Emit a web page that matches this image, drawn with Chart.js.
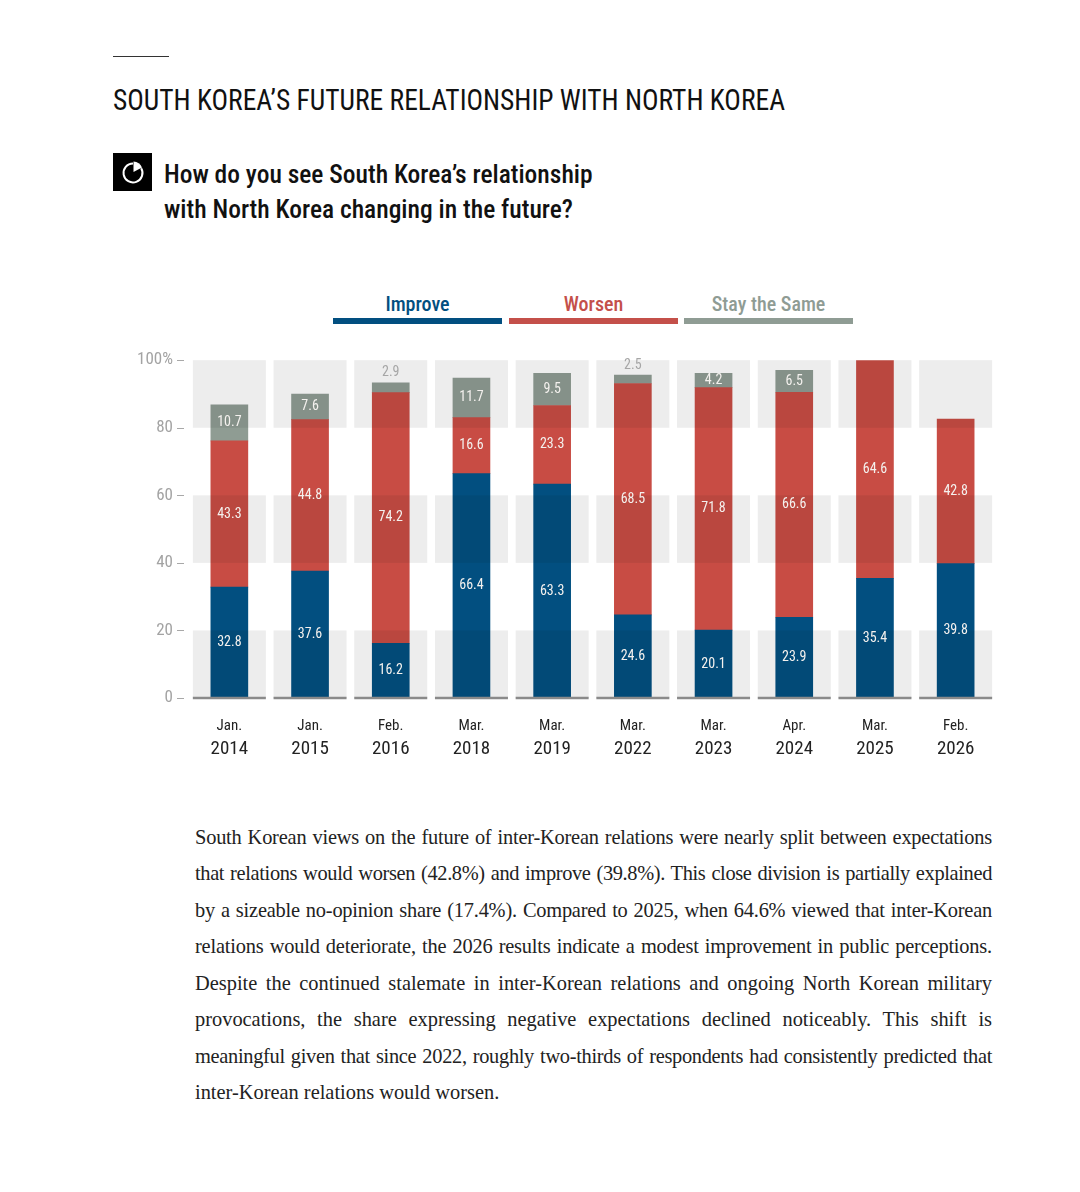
<!DOCTYPE html>
<html>
<head>
<meta charset="utf-8">
<title>South Korea's future relationship with North Korea</title>
<script src="https://cdn.jsdelivr.net/npm/chart.js@4"></script>
<style>
  html, body { margin: 0; padding: 0; background: #fff; }
  body { width: 1080px; height: 1192px; position: relative; overflow: hidden; font-family: "Roboto Condensed", sans-serif; }
  .abs { position: absolute; white-space: nowrap; }
  #rule { left: 113px; top: 56px; width: 56px; height: 1px; background: #333; }
  #title { left: 113px; top: 81px; font-size: 30px; line-height: 38px; color: #111; transform: scaleX(0.917); transform-origin: left center; }
  #icon { left: 113px; top: 153px; width: 39px; height: 38px; background: #000; }
  .question { left: 164px; font-size: 26px; line-height: 34px; font-weight: 500; color: #111; transform: scaleX(0.98); transform-origin: left center; }
  .legend-label { font-size: 20px; line-height: 24px; font-weight: 500; text-align: center; top: 292px; width: 169px; }
  .legend-bar { top: 318px; height: 6px; width: 169px; }
  #chart-box { left: 130px; top: 334px; }
  .body-line { left: 195px; width: 797px; font-family: "Liberation Serif", serif; font-size: 20.4px; line-height: 28px; color: #222; white-space: normal; text-align: justify; text-align-last: justify; }
  .body-line.last { text-align-last: left; }
</style>
</head>
<body>
<div class="abs" id="rule"></div>
<div class="abs" id="title">SOUTH KOREA’S FUTURE RELATIONSHIP WITH NORTH KOREA</div>
<div class="abs" id="icon">
  <svg width="39" height="38" viewBox="0 0 39 38">
    <path d="M20 10.5 A9.5 9.5 0 1 0 28.2 15.2" fill="none" stroke="#fff" stroke-width="2"/>
    <path d="M20.5 19 L20.5 8.5 A10 10 0 0 1 29 14.5 Z" fill="#fff"/>
  </svg>
</div>
<div class="abs question" style="top:157px">How do you see South Korea’s relationship</div>
<div class="abs question" style="top:192px">with North Korea changing in the future?</div>
<div id="legend"></div>
<div class="abs" id="chart-box"><canvas id="chart" width="866" height="428"></canvas></div>
<div id="body-text"></div>
<script>
const months = ['Jan.', 'Jan.', 'Feb.', 'Mar.', 'Mar.', 'Mar.', 'Mar.', 'Apr.', 'Mar.', 'Feb.'];
const years = ['2014', '2015', '2016', '2018', '2019', '2022', '2023', '2024', '2025', '2026'];
const improve = [32.8, 37.6, 16.2, 66.4, 63.3, 24.6, 20.1, 23.9, 35.4, 39.8];
const worsen = [43.3, 44.8, 74.2, 16.6, 23.3, 68.5, 71.8, 66.6, 64.6, 42.8];
const stayTheSame = [10.7, 7.6, 2.9, 11.7, 9.5, 2.5, 4.2, 6.5, null, null];
const seriesNames = ['Improve', 'Worsen', 'Stay the Same'];
const seriesColors = ['#024f80', '#c84c44', '#8f9c93'];
const legendColors = ['#024f80', '#c4504a', '#8f9c94'];
const legendLefts = [333, 509, 684];
const bandRanges = [[0, 20], [40, 60], [80, 100]];
const bodyLines = [
    'South Korean views on the future of inter-Korean relations were nearly split between expectations',
    'that relations would worsen (42.8%) and improve (39.8%). This close division is partially explained',
    'by a sizeable no-opinion share (17.4%). Compared to 2025, when 64.6% viewed that inter-Korean',
    'relations would deteriorate, the 2026 results indicate a modest improvement in public perceptions.',
    'Despite the continued stalemate in inter-Korean relations and ongoing North Korean military',
    'provocations, the share expressing negative expectations declined noticeably. This shift is',
    'meaningful given that since 2022, roughly two-thirds of respondents had consistently predicted that',
    'inter-Korean relations would worsen.'
];
const bodyTops = [823, 859, 896, 932, 969, 1005, 1042, 1078];

const FONT = '"Roboto Condensed", sans-serif';

// legend and paragraph are plain html
const legendBox = document.getElementById('legend');
seriesNames.forEach((name, i) => {
    legendBox.innerHTML += `<div class="abs legend-label" style="left:${legendLefts[i]}px;color:${legendColors[i]}">${name}</div>` +
        `<div class="abs legend-bar" style="left:${legendLefts[i]}px;background:${legendColors[i]}"></div>`;
});
const bodyBox = document.getElementById('body-text');
const measure = document.createElement('canvas').getContext('2d');
measure.font = '20.4px "Liberation Serif"';
bodyLines.forEach((line, i) => {
    const cls = i === bodyLines.length - 1 ? 'abs body-line last' : 'abs body-line';
    // long lines get squeezed so they stay on one row, like the tight lines in the original
    const room = 782 - measure.measureText(line).width;
    const spacing = Math.min(0, room / line.length).toFixed(3);
    bodyBox.innerHTML += `<div class="${cls}" style="top:${bodyTops[i]}px;letter-spacing:${spacing}px">${line}</div>`;
});

const BAND_WIDTH = 73;

const stripePlugin = {
    id: 'stripes',
    afterDatasetsDraw(chart) {
        const { ctx, scales, chartArea } = chart;
        ctx.save();
        // stripes go on top with multiply, bars darken where they cross them
        ctx.globalCompositeOperation = 'multiply';
        ctx.fillStyle = '#ededed';
        years.forEach((year, i) => {
            const cx = scales.x.getPixelForValue(i);
            bandRanges.forEach((range) => {
                const top = scales.y.getPixelForValue(range[1]);
                const bottom = scales.y.getPixelForValue(range[0]);
                ctx.fillRect(cx - BAND_WIDTH / 2, top, BAND_WIDTH, bottom - top);
            });
        });
        ctx.globalCompositeOperation = 'source-over';
        // baseline pieces under each column
        ctx.strokeStyle = '#8a8a8a';
        ctx.lineWidth = 2.5;
        const y0 = scales.y.getPixelForValue(0);
        years.forEach((year, i) => {
            const cx = scales.x.getPixelForValue(i);
            ctx.beginPath();
            ctx.moveTo(cx - BAND_WIDTH / 2, y0);
            ctx.lineTo(cx + BAND_WIDTH / 2, y0);
            ctx.stroke();
        });
        // y tick dashes, detached from the plot
        ctx.strokeStyle = '#a8a8a8';
        ctx.lineWidth = 1;
        scales.y.ticks.forEach((tick) => {
            const y = Math.round(scales.y.getPixelForValue(tick.value)) + 0.5;
            ctx.beginPath();
            ctx.moveTo(chartArea.left - 12, y);
            ctx.lineTo(chartArea.left - 5, y);
            ctx.stroke();
        });
        // value labels
        ctx.textAlign = 'center';
        ctx.textBaseline = 'middle';
        ctx.font = '14px ' + FONT;
        chart.data.datasets.forEach((dataset, d) => {
            chart.getDatasetMeta(d).data.forEach((bar, i) => {
                const value = dataset.data[i];
                if (value === null) return;
                if (value < 3) {
                    ctx.fillStyle = '#a6a6a6';
                    ctx.fillText(value.toFixed(1), bar.x, bar.y - 10);
                } else {
                    ctx.fillStyle = '#f4f1ee';
                    ctx.fillText(value.toFixed(1), bar.x, (bar.y + bar.base) / 2);
                }
            });
        });
        ctx.restore();
    }
};

new Chart(document.getElementById('chart').getContext('2d'), {
    type: 'bar',
    data: {
        labels: months,
        datasets: [
            { label: seriesNames[0], data: improve, backgroundColor: seriesColors[0], barThickness: 37 },
            { label: seriesNames[1], data: worsen, backgroundColor: seriesColors[1], barThickness: 37 },
            { label: seriesNames[2], data: stayTheSame, backgroundColor: seriesColors[2], barThickness: 37 }
        ]
    },
    plugins: [stripePlugin],
    options: {
        responsive: false,
        animation: false,
        layout: { padding: { top: 14 } },
        plugins: { legend: { display: false }, tooltip: { enabled: false } },
        scales: {
            x: {
                stacked: true,
                weight: 0,
                grid: { display: false, drawTicks: false },
                border: { display: false },
                ticks: { autoSkip: false, maxRotation: 0, padding: 19, color: '#222', font: { family: FONT, size: 15 } },
                afterFit(scale) { scale.height = 40; }
            },
            xYear: {
                type: 'category',
                axis: 'x',
                position: 'bottom',
                weight: 1,
                labels: years,
                offset: true,
                grid: { display: false, drawTicks: false },
                border: { display: false },
                ticks: { autoSkip: false, maxRotation: 0, padding: 0, color: '#222', font: { family: FONT, size: 19 } },
                afterFit(scale) { scale.height = 24; }
            },
            y: {
                stacked: true,
                min: 0,
                max: 100,
                grid: { display: false, drawTicks: false },
                border: { display: false },
                ticks: {
                    stepSize: 20,
                    padding: 16,
                    color: '#a3a3a3',
                    font: { family: FONT, size: 17 },
                    callback: (value) => value === 100 ? '100%' : value
                },
                afterFit(scale) { scale.width = 59; }
            }
        }
    }
});
</script>
</body>
</html>
